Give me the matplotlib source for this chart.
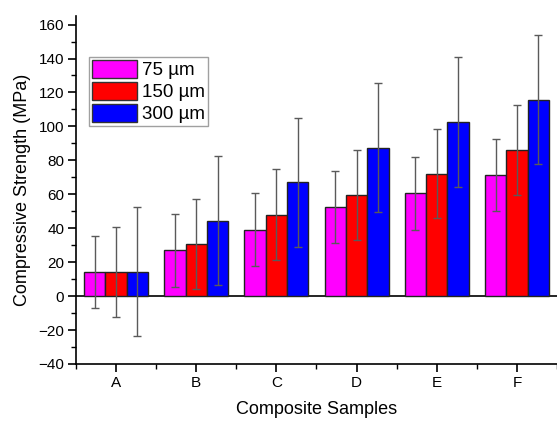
import numpy as np
import matplotlib
matplotlib.use("Agg")
import matplotlib.pyplot as plt
from matplotlib.ticker import MultipleLocator

plt.rcParams['font.family'] = ['Liberation Sans', 'DejaVu Sans']

# data
samples = ["A", "B", "C", "D", "E", "F"]
series_names = ["75 µm", "150 µm", "300 µm"]
s75 = [14.4, 26.9, 39.0, 52.5, 60.6, 71.4]
s150 = [14.4, 30.8, 48.0, 59.6, 72.2, 86.0]
s300 = [14.4, 44.5, 67.0, 87.5, 102.6, 115.7]
err75 = [21.2, 21.5, 21.5, 21.5, 21.4, 21.4]
err150 = [26.6, 26.5, 26.6, 26.6, 26.4, 26.6]
err300 = [38.0, 38.1, 38.1, 37.9, 38.1, 38.1]
colors = ["#FF00FF", "#FF0000", "#0000FF"]

fig = plt.figure(figsize=(5.57, 4.23), dpi=100)
ax = fig.add_axes([0.1364, 0.1395, 0.8636, 0.8225])

x = np.arange(1, len(samples) + 1)
w = 0.8 / 3
vals = [s75, s150, s300]
errs = [err75, err150, err300]
for i, (v, e, c, name) in enumerate(zip(vals, errs, colors, series_names)):
    pos = x + (i - 1) * w
    ax.bar(pos, v, width=w, color=c, edgecolor="#222222", linewidth=1.0,
           label=name, zorder=2)
    ax.errorbar(pos, v, yerr=e, fmt="none", ecolor="#5a5a5a", elinewidth=1.0,
                capsize=3, capthick=1.0, zorder=3)

ax.axhline(0, color="black", linewidth=1.2, zorder=1)

ax.set_xlim(0.5, 6.46)
ax.set_ylim(-40, 165)
ax.set_xticks(x)
ax.set_xticklabels(samples)
ax.set_xticks(np.arange(0.5, 6.6, 1.0), minor=True)
ax.yaxis.set_major_locator(MultipleLocator(20))
ax.yaxis.set_minor_locator(MultipleLocator(10))

for s in ["top", "right"]:
    ax.spines[s].set_visible(False)
ax.spines["left"].set_linewidth(1.2)
ax.spines["bottom"].set_linewidth(1.2)
ax.tick_params(axis="both", which="major", direction="out", length=6,
               width=1.2, labelsize=11, pad=2.5)
ax.tick_params(axis="both", which="minor", direction="out", length=3.5, width=1.0)

ax.set_xlabel("Composite Samples", fontsize=13, labelpad=8)
ax.set_ylabel("Compressive Strength (MPa)", fontsize=13, labelpad=5)

leg = ax.legend(loc="upper left", bbox_to_anchor=(0.027, 0.882), fontsize=13.5,
                frameon=True, fancybox=False, edgecolor="#888888",
                handlelength=2.4, handleheight=1.05, handletextpad=0.25,
                labelspacing=0.15, borderpad=0.17, borderaxespad=0)
leg.get_frame().set_linewidth(1.0)
for h in leg.legend_handles:
    h.set_edgecolor("#333333")

fig.savefig("out.png", dpi=100)
